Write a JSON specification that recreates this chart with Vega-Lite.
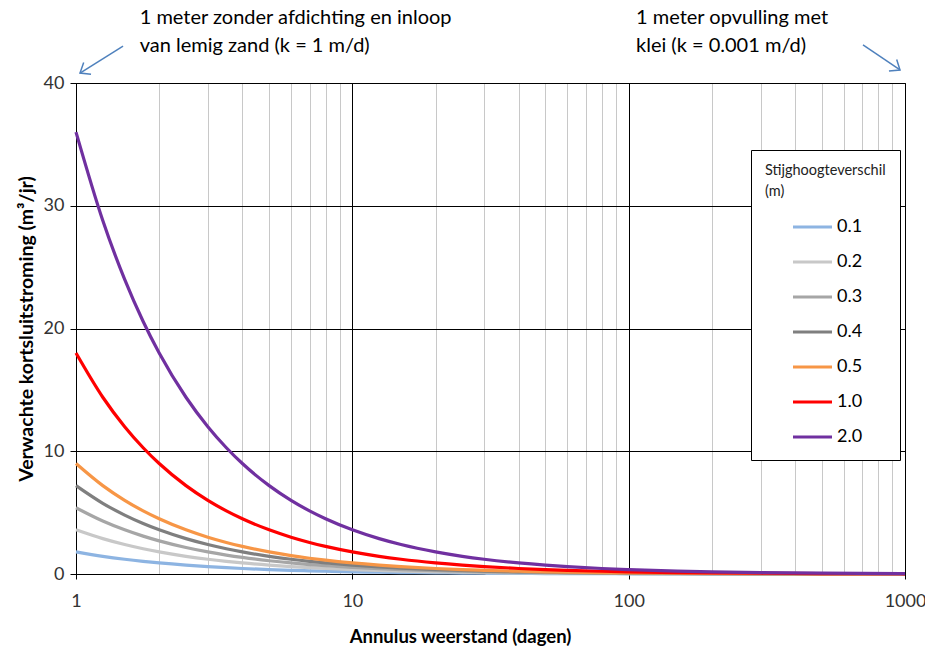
{
  "$schema": "https://vega.github.io/schema/vega-lite/v6.json",
  "width": 829,
  "height": 491,
  "autosize": {"type": "none"},
  "padding": {"left": 76, "top": 83, "right": 20, "bottom": 74},
  "background": "white",
  "config": {
    "font": "Lato",
    "view": {"stroke": "black", "strokeWidth": 1},
    "axis": {"labelFont": "Lato", "titleFont": "Lato", "labelColor": "#333333", "titleColor": "black"}
  },
  "encoding": {
    "x": {
      "field": "c", "type": "quantitative",
      "scale": {"type": "log", "domain": [1, 1000], "nice": false},
      "axis": {
        "title": "Annulus weerstand (dagen)",
        "titleFontSize": 18.5, "titleFontWeight": "bold", "titlePadding": 17, "titleX": 384,
        "values": [1,2,3,4,5,6,7,8,9,10,20,30,40,50,60,70,80,90,100,200,300,400,500,600,700,800,900,1000],
        "format": "d",
        "labelExpr": "indexof([1,10,100,1000], datum.value) >= 0 ? datum.label : ''",
        "labelOverlap": false, "labelFontSize": 18, "labelPadding": 13, "labelFlush": false,
        "tickSize": 5,
        "tickColor": "black",
        "tickOpacity": {"condition": {"test": "indexof([1,10,100,1000], datum.value) >= 0", "value": 1}, "value": 0},
        "domainColor": "black",
        "grid": true,
        "gridColor": {"condition": {"test": "indexof([1,10,100,1000], datum.value) >= 0", "value": "black"}, "value": "#c8c8c8"},
        "gridWidth": 1
      }
    },
    "y": {
      "field": "q", "type": "quantitative",
      "scale": {"domain": [0, 40], "nice": false, "zero": true},
      "axis": {
        "title": "Verwachte kortsluitstroming (m³/jr)",
        "titleFontSize": 19.5, "titleFontWeight": "bold", "titlePadding": 7,
        "values": [0, 10, 20, 30, 40],
        "labelFontSize": 18, "labelPadding": 6,
        "tickSize": 6, "tickColor": "black",
        "domainColor": "black",
        "grid": true, "gridColor": "black", "gridWidth": 1
      }
    }
  },
  "layer": [
    {
      "data": {"values": [
        {"c": 1, "0_1": 1.8, "0_2": 3.6, "0_3": 5.4, "0_4": 7.2, "0_5": 9, "1_0": 18, "2_0": 36},
        {"c": 1.25, "0_1": 1.44, "0_2": 2.88, "0_3": 4.32, "0_4": 5.76, "0_5": 7.2, "1_0": 14.4, "2_0": 28.8},
        {"c": 1.5, "0_1": 1.2, "0_2": 2.4, "0_3": 3.6, "0_4": 4.8, "0_5": 6, "1_0": 12, "2_0": 24},
        {"c": 1.75, "0_1": 1.029, "0_2": 2.057, "0_3": 3.086, "0_4": 4.114, "0_5": 5.143, "1_0": 10.286, "2_0": 20.571},
        {"c": 2, "0_1": 0.9, "0_2": 1.8, "0_3": 2.7, "0_4": 3.6, "0_5": 4.5, "1_0": 9, "2_0": 18},
        {"c": 2.5, "0_1": 0.72, "0_2": 1.44, "0_3": 2.16, "0_4": 2.88, "0_5": 3.6, "1_0": 7.2, "2_0": 14.4},
        {"c": 3, "0_1": 0.6, "0_2": 1.2, "0_3": 1.8, "0_4": 2.4, "0_5": 3, "1_0": 6, "2_0": 12},
        {"c": 3.5, "0_1": 0.514, "0_2": 1.029, "0_3": 1.543, "0_4": 2.057, "0_5": 2.571, "1_0": 5.143, "2_0": 10.286},
        {"c": 4, "0_1": 0.45, "0_2": 0.9, "0_3": 1.35, "0_4": 1.8, "0_5": 2.25, "1_0": 4.5, "2_0": 9},
        {"c": 5, "0_1": 0.36, "0_2": 0.72, "0_3": 1.08, "0_4": 1.44, "0_5": 1.8, "1_0": 3.6, "2_0": 7.2},
        {"c": 6, "0_1": 0.3, "0_2": 0.6, "0_3": 0.9, "0_4": 1.2, "0_5": 1.5, "1_0": 3, "2_0": 6},
        {"c": 7, "0_1": 0.257, "0_2": 0.514, "0_3": 0.771, "0_4": 1.029, "0_5": 1.286, "1_0": 2.571, "2_0": 5.143},
        {"c": 8, "0_1": 0.225, "0_2": 0.45, "0_3": 0.675, "0_4": 0.9, "0_5": 1.125, "1_0": 2.25, "2_0": 4.5},
        {"c": 10, "0_1": 0.18, "0_2": 0.36, "0_3": 0.54, "0_4": 0.72, "0_5": 0.9, "1_0": 1.8, "2_0": 3.6},
        {"c": 12.5, "0_1": 0.144, "0_2": 0.288, "0_3": 0.432, "0_4": 0.576, "0_5": 0.72, "1_0": 1.44, "2_0": 2.88},
        {"c": 15, "0_1": 0.12, "0_2": 0.24, "0_3": 0.36, "0_4": 0.48, "0_5": 0.6, "1_0": 1.2, "2_0": 2.4},
        {"c": 20, "0_1": 0.09, "0_2": 0.18, "0_3": 0.27, "0_4": 0.36, "0_5": 0.45, "1_0": 0.9, "2_0": 1.8},
        {"c": 25, "0_1": 0.072, "0_2": 0.144, "0_3": 0.216, "0_4": 0.288, "0_5": 0.36, "1_0": 0.72, "2_0": 1.44},
        {"c": 30, "0_1": 0.06, "0_2": 0.12, "0_3": 0.18, "0_4": 0.24, "0_5": 0.3, "1_0": 0.6, "2_0": 1.2},
        {"c": 40, "0_1": 0.045, "0_2": 0.09, "0_3": 0.135, "0_4": 0.18, "0_5": 0.225, "1_0": 0.45, "2_0": 0.9},
        {"c": 50, "0_1": 0.036, "0_2": 0.072, "0_3": 0.108, "0_4": 0.144, "0_5": 0.18, "1_0": 0.36, "2_0": 0.72},
        {"c": 60, "0_1": 0.03, "0_2": 0.06, "0_3": 0.09, "0_4": 0.12, "0_5": 0.15, "1_0": 0.3, "2_0": 0.6},
        {"c": 80, "0_1": 0.0225, "0_2": 0.045, "0_3": 0.0675, "0_4": 0.09, "0_5": 0.1125, "1_0": 0.225, "2_0": 0.45},
        {"c": 100, "0_1": 0.018, "0_2": 0.036, "0_3": 0.054, "0_4": 0.072, "0_5": 0.09, "1_0": 0.18, "2_0": 0.36},
        {"c": 150, "0_1": 0.012, "0_2": 0.024, "0_3": 0.036, "0_4": 0.048, "0_5": 0.06, "1_0": 0.12, "2_0": 0.24},
        {"c": 200, "0_1": 0.009, "0_2": 0.018, "0_3": 0.027, "0_4": 0.036, "0_5": 0.045, "1_0": 0.09, "2_0": 0.18},
        {"c": 300, "0_1": 0.006, "0_2": 0.012, "0_3": 0.018, "0_4": 0.024, "0_5": 0.03, "1_0": 0.06, "2_0": 0.12},
        {"c": 500, "0_1": 0.0036, "0_2": 0.0072, "0_3": 0.0108, "0_4": 0.0144, "0_5": 0.018, "1_0": 0.036, "2_0": 0.072},
        {"c": 1000, "0_1": 0.0018, "0_2": 0.0036, "0_3": 0.0054, "0_4": 0.0072, "0_5": 0.009, "1_0": 0.018, "2_0": 0.036}
      ]},
      "transform": [
        {"fold": ["0_1", "0_2", "0_3", "0_4", "0_5", "1_0", "2_0"], "as": ["dh", "q"]}
      ],
      "mark": {"type": "line", "interpolate": "monotone", "strokeWidth": 3.2},
      "encoding": {
        "color": {
          "field": "dh", "type": "nominal",
          "scale": {
            "domain": ["0_1", "0_2", "0_3", "0_4", "0_5", "1_0", "2_0"],
            "range": ["#8DB4E2", "#C8C8C8", "#A6A6A6", "#7F7F7F", "#F79646", "#FF0000", "#7030A0"]
          },
          "legend": {
            "title": ["Stijghoogteverschil", "(m)"],
            "titleFontSize": 14.5, "titleFontWeight": "normal", "titleColor": "#222222", "titleLineHeight": 21,
            "titlePadding": 6,
            "labelExpr": "replace(datum.label, '_', '.')",
            "labelFontSize": 18, "labelColor": "black", "labelOffset": 3,
            "symbolType": "stroke", "symbolStrokeWidth": 3.2, "symbolSize": 1521, "symbolOffset": 26,
            "orient": "none", "legendX": 675, "legendY": 67,
            "fillColor": "white", "strokeColor": "black", "padding": 14,
            "rowPadding": 4
          }
        }
      }
    },
    {
      "data": {"values": [
        {"c": 1.48, "q": 43.01, "c2": 1.034, "q2": 40.81},
        {"c": 704.7, "q": 43.10, "c2": 959.2, "q2": 41.06}
      ]},
      "mark": {"type": "rule", "color": "#4F81BD", "strokeWidth": 1.5},
      "encoding": {
        "x2": {"field": "c2"},
        "y2": {"field": "q2"}
      }
    },
    {
      "data": {"values": [
        {"c": 1.034, "q": 40.81}
      ]},
      "mark": {"type": "point", "shape": "M -1 -0.8 L 0 0 L -1 0.8", "filled": false, "color": "#4F81BD", "strokeWidth": 1.5, "size": 300, "angle": 148, "opacity": 1},
      "encoding": {}
    },
    {
      "data": {"values": [
        {"c": 959.2, "q": 41.06}
      ]},
      "mark": {"type": "point", "shape": "M -1 -0.8 L 0 0 L -1 0.8", "filled": false, "color": "#4F81BD", "strokeWidth": 1.5, "size": 300, "angle": 34, "opacity": 1},
      "encoding": {}
    },
    {
      "data": {"values": [
        {"c": 1.70, "q": 46.1, "label": "1 meter zonder afdichting en inloop\nvan lemig zand (k = 1 m/d)"},
        {"c": 106.3, "q": 46.1, "label": "1 meter opvulling met\nklei (k = 0.001 m/d)"}
      ]},
      "mark": {"type": "text", "align": "left", "baseline": "top", "fontSize": 20, "font": "Lato", "color": "black", "lineBreak": "\n", "lineHeight": 28},
      "encoding": {
        "text": {"field": "label"}
      }
    }
  ]
}
